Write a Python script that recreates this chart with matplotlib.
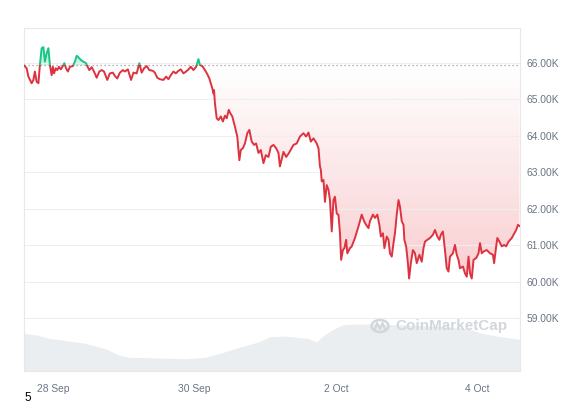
import numpy as np
import pandas as pd
import matplotlib
matplotlib.use("Agg")
import matplotlib.pyplot as plt
import matplotlib.dates as mdates
import matplotlib.transforms as mtransforms
from matplotlib.patches import Rectangle, Circle
from matplotlib.colors import to_rgb

# ---------------- data ----------------
start_time = "2024-09-27 14:00"
hours = [0.0, 0.9, 1.5, 2.6, 3.2, 3.7, 4.3, 4.9, 5.4, 6.0, 6.6, 7.1, 7.7, 8.3, 8.8, 9.4, 9.8,
         10.2, 10.8, 11.3, 11.9, 12.5, 13.2, 13.7, 14.3, 14.9, 15.6, 16.6, 17.3, 17.9, 18.5,
         19.3, 20.2, 21.1, 21.5, 22.2, 23.0, 23.8, 24.7, 25.6, 26.4, 27.2, 28.3, 29.2, 30.2,
         30.9, 31.7, 32.6, 33.6, 34.3, 35.3, 36.4, 37.2, 38.3, 39.2, 40.0, 40.8, 41.7, 42.6,
         43.8, 44.5, 45.3, 46.2, 47.4, 48.3, 49.1, 49.9, 50.8, 51.6, 52.5, 53.3, 54.2, 55.1,
         55.9, 56.7, 57.6, 58.5, 59.3, 59.8, 60.6, 61.5, 62.3, 63.0, 63.5, 64.0, 64.4, 64.6,
         64.9, 65.5, 66.1, 66.9, 67.6, 68.3, 68.9, 69.6, 70.1, 70.8, 71.7, 72.5, 73.2, 73.7,
         74.4, 75.1, 75.9, 76.6, 77.4, 78.2, 78.9, 79.7, 80.5, 81.4, 82.2, 83.1, 83.9, 84.8,
         85.7, 86.5, 87.0, 88.2, 89.1, 90.0, 91.6, 92.7, 93.8, 95.0, 95.9, 96.7, 97.5, 98.4,
         99.5, 100.1, 100.6, 100.9, 101.2, 101.8, 102.3, 102.9, 103.5, 104.0, 104.6, 105.2,
         105.7, 106.3, 106.9, 107.4, 107.8, 108.4, 108.9, 109.5, 109.9, 110.8, 111.4, 112.5,
         113.7, 114.8, 115.6, 116.3, 117.1, 117.6, 118.6, 119.3, 120.1, 120.8, 121.3, 122.0,
         122.5, 123.3, 123.9, 124.4, 125.0, 125.6, 126.1, 126.7, 127.3, 127.8, 128.4, 129.0,
         129.3, 129.9, 130.5, 130.9, 131.5, 132.2, 132.9, 133.5, 134.4, 135.2, 135.8, 136.3,
         137.1, 138.0, 139.0, 139.7, 140.5, 141.2, 141.7, 142.4, 143.2, 143.7, 144.3, 144.8,
         145.8, 146.5, 147.1, 147.7, 148.2, 149.2, 149.9, 150.5, 151.1, 151.6, 152.2, 152.8,
         153.7, 154.5, 155.0, 155.6, 156.2, 157.3, 158.4, 159.4, 159.8, 160.5, 160.9, 161.6,
         162.4, 163.2, 163.9, 164.7, 165.8, 166.4, 167.3, 167.9, 168.4]
prices = [65930, 65850, 65620, 65440, 65530, 65760, 65480, 65440, 65940, 66400, 66430, 66030,
          66260, 66400, 65940, 65660, 65890, 65710, 65850, 65800, 65890, 65820, 65910, 65990,
          65850, 65760, 65890, 65910, 66030, 66190, 66150, 66080, 66030, 65990, 65910, 65800,
          65880, 65760, 65590, 65760, 65800, 65760, 65530, 65710, 65730, 65640, 65570, 65730,
          65800, 65760, 65820, 65530, 65730, 65710, 65990, 65730, 65850, 65910, 65800, 65780,
          65730, 65590, 65550, 65530, 65620, 65550, 65660, 65760, 65710, 65780, 65820, 65710,
          65760, 65820, 65890, 65800, 65890, 66100, 65940, 65910, 65800, 65690, 65570, 65440,
          65300, 65160, 65250, 64890, 64480, 64430, 64530, 64390, 64550, 64480, 64710, 64620,
          64530, 64250, 63980, 63330, 63610, 63660, 63790, 64070, 64160, 63840, 63750, 63790,
          63530, 63610, 63250, 63470, 63420, 63700, 63750, 63660, 63530, 63160, 63560, 63420,
          63520, 63750, 63790, 63980, 64070, 63980, 64090, 63840, 63930, 63790, 63660, 63160,
          63070, 62750, 62790, 62190, 62650, 62520, 62240, 61380, 62240, 62330, 61870, 61830,
          61330, 60600, 60870, 60920, 61150, 60780, 60920, 60970, 61200, 61520, 61840, 61660,
          61560, 61470, 61660, 61840, 61750, 61840, 61560, 61240, 61330, 60920, 61240, 61150,
          60780, 60690, 61060, 61330, 61840, 62240, 62060, 61660, 61560, 61150, 60970, 60510,
          60090, 60510, 60870, 60780, 60510, 60740, 60550, 60920, 61100, 61150, 61200, 61290,
          61420, 61240, 61150, 61290, 61380, 60780, 60370, 60280, 60690, 60780, 61010, 60740,
          60600, 60370, 60420, 60230, 60140, 60690, 60230, 60090, 60600, 60650, 60780, 61060,
          60780, 60830, 60870, 60780, 60740, 60510, 60970, 61200, 61100, 60970, 61010, 60970,
          61100, 61200, 61290, 61420, 61560, 61530]

vol_hours = [0.0, 4.4, 8.2, 14.6, 20.7, 28.2, 32.1, 36.0, 42.2, 48.6, 54.7, 61.7, 67.3, 73.8,
             79.9, 83.6, 88.7, 96.2, 99.6, 101.3, 105.1, 108.3, 112.7, 117.6, 130.2, 142.8,
             150.6, 155.6, 161.8, 168.6]
volumes = [25.1, 24.0, 21.8, 20.2, 18.5, 14.5, 10.7, 9.1, 8.9, 8.5, 8.2, 9.1, 12.2, 16.2,
           19.5, 22.9, 23.3, 21.8, 19.5, 22.9, 27.8, 30.7, 31.3, 31.3, 30.7, 29.5, 28.5, 25.1,
           22.9, 21.1]

tick_dates = ["2024-09-28", "2024-09-30", "2024-10-02", "2024-10-04"]
tick_labels = ["28 Sep", "30 Sep", "2 Oct", "4 Oct"]
y_ticks = [59000, 60000, 61000, 62000, 63000, 64000, 65000, 66000]
y_tick_labels = ["59.00K", "60.00K", "61.00K", "62.00K", "63.00K", "64.00K", "65.00K", "66.00K"]

# ---------------- style ----------------
RED = "#dd3340"
GREEN = "#16c784"
GRID = "#eeeeee"
LABEL = "#6b7585"
VOLC = "#eaeef1"

plt.rcParams["font.family"] = ["Liberation Sans", "DejaVu Sans"]

t0 = pd.Timestamp(start_time)
t = mdates.date2num(t0 + pd.to_timedelta(hours, unit="h"))
p = np.array(prices, dtype=float)
tv = mdates.date2num(t0 + pd.to_timedelta(vol_hours, unit="h"))
v = np.array(volumes)
base = p[0]

xmin = mdates.date2num(t0)
xmax = mdates.date2num(t0 + pd.Timedelta(hours=168.6))
ymin, ymax = 57556, 66953

fig = plt.figure(figsize=(5.81, 4.08), dpi=100, facecolor="white")
pos = [24 / 581, 37 / 408, 496 / 581, 343 / 408]

# volume axes (behind)
axv = fig.add_axes(pos, zorder=0)
axv.fill_between(tv, v, 0, color=VOLC, lw=0)
axv.set_xlim(xmin, xmax)
axv.set_ylim(0, 228.7)
axv.axis("off")

ax = fig.add_axes(pos, zorder=1)
ax.patch.set_alpha(0)
ax.set_xlim(xmin, xmax)
ax.set_ylim(ymin, ymax)

# grid
ax.set_yticks(y_ticks)
ax.set_yticklabels(y_tick_labels)
ax.yaxis.tick_right()
ax.grid(axis="y", color=GRID, lw=0.8, zorder=0)
ax.set_xticks(mdates.date2num(pd.to_datetime(tick_dates)))
ax.set_xticklabels(tick_labels)
ax.tick_params(axis="both", length=0, labelcolor=LABEL, labelsize=7.4)
ax.tick_params(axis="y", pad=5)
ax.tick_params(axis="x", pad=9)
for s in ax.spines.values():
    s.set_color("#e8e8e8")
    s.set_linewidth(0.8)

# gradient red fill below baseline
poly = ax.fill_between(t, np.minimum(p, base), base, facecolor="none", edgecolor="none")
n = 256
rgba = np.zeros((n, 1, 4))
rgba[..., :3] = to_rgb("#ea3943")
rgba[:, 0, 3] = np.linspace(0.26, 0.0, n)
im = ax.imshow(rgba, extent=[xmin, xmax, 59800, base], aspect="auto", origin="lower",
               zorder=1, interpolation="bilinear")
im.set_clip_path(poly.get_paths()[0], transform=ax.transData)
ax.set_xlim(xmin, xmax)
ax.set_ylim(ymin, ymax)

# green fill above baseline
ax.fill_between(t, p, base, where=p > base, interpolate=True, color=GREEN, alpha=0.22, lw=0, zorder=1)

# baseline
ax.axhline(base, color="#9a9a9a", lw=0.9, ls=(0, (1, 2.2)), zorder=2)

# two-coloured line
trans = mtransforms.blended_transform_factory(ax.transAxes, ax.transData)
above = Rectangle((0, base), 1, 1e6, transform=trans)
below = Rectangle((0, base - 1e6), 1, 1e6, transform=trans)
lg, = ax.plot(t, p, color=GREEN, lw=1.4, zorder=3, solid_joinstyle="round")
lg.set_clip_path(above)
lr, = ax.plot(t, p, color=RED, lw=1.4, zorder=3, solid_joinstyle="round")
lr.set_clip_path(below)

# watermark
wm = "#d3d7dc"
fig.patches.append(Circle((380 / 581, 1 - 326 / 408), 8.5 / 581, transform=fig.transFigure,
                          fill=False, ec=wm, lw=1.8, zorder=5))
fig.lines.append(plt.Line2D([374.5 / 581, 377 / 581, 380 / 581, 382.5 / 581, 385.5 / 581],
                            [1 - 330 / 408, 1 - 323 / 408, 1 - 329 / 408, 1 - 323 / 408, 1 - 330 / 408],
                            transform=fig.transFigure, color=wm, lw=1.6, zorder=5))
fig.text(451 / 581, 1 - 326 / 408, "CoinMarketCap", color=wm, fontsize=11, ha="center",
         va="center", fontweight="bold", zorder=5)

fig.text(28 / 581, 1 - 398 / 408, "5", color="black", fontsize=8.5, ha="center", va="center")

fig.savefig("out.png", dpi=100, facecolor="white")
